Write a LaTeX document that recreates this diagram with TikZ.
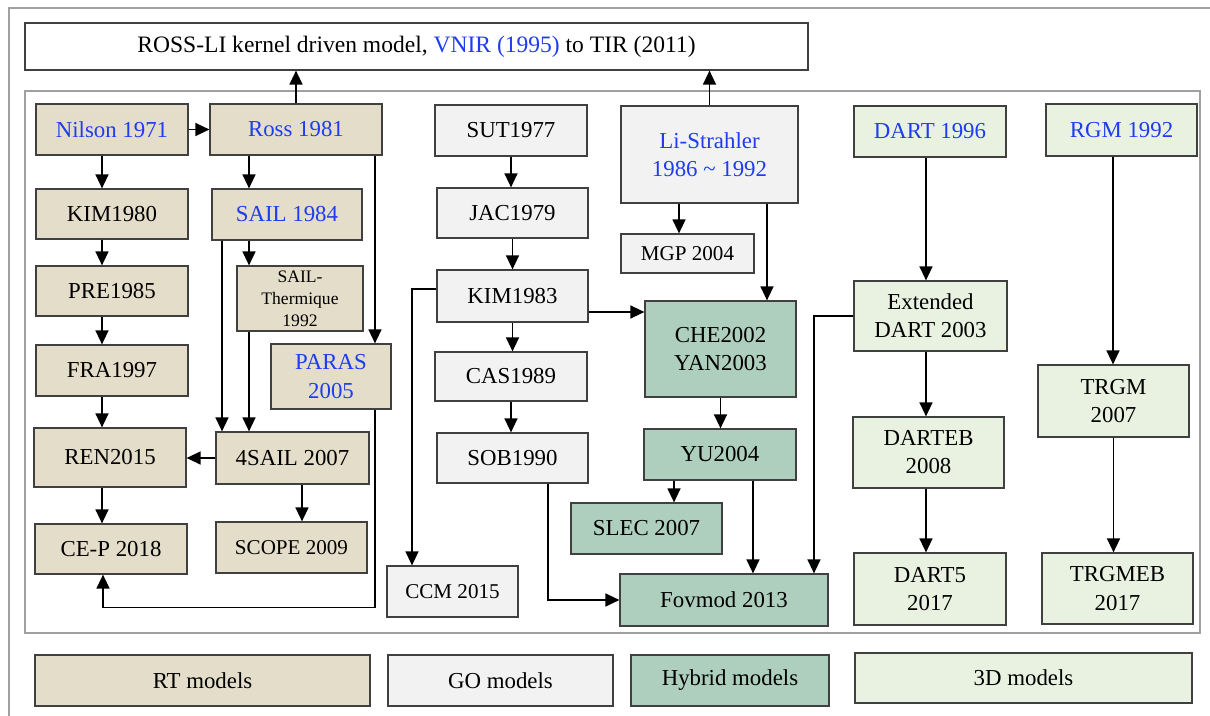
\documentclass[tikz,border=0pt]{standalone}
\usepackage{fontspec}
\setmainfont{Liberation Serif}
\usetikzlibrary{arrows.meta}

\definecolor{rtfill}{RGB}{228,221,201}
\definecolor{gofill}{RGB}{242,242,242}
\definecolor{hyfill}{RGB}{174,206,190}
\definecolor{tdfill}{RGB}{233,242,225}
\definecolor{edgegray}{RGB}{64,64,64}
\definecolor{framegray}{RGB}{160,160,160}
\definecolor{newblue}{RGB}{30,60,240}

\begin{document}
\begin{tikzpicture}[x=0.02cm, y=-0.02cm, >={Triangle[length=2.8mm, width=2.6mm]}, line width=0.8pt,
    model/.style={rectangle, draw=edgegray, line width=0.7pt, minimum width=3.04cm, minimum height=1.02cm,
        inner sep=1pt, align=center, font=\fontsize{13}{16}\selectfont},
    rt/.style={model, fill=rtfill}, go/.style={model, fill=gofill},
    hy/.style={model, fill=hyfill}, td/.style={model, fill=tdfill},
    small/.style={font=\fontsize{12}{14}\selectfont},
    new/.style={text=newblue}]
    \useasboundingbox (0,0) rectangle (1210,716);
    \draw[framegray, line width=0.6pt] (9,716) -- (9,8) -- (1210,8);
    \draw[framegray, line width=0.6pt] (25,91) rectangle (1200,633);

    \node[model, fill=white, minimum width=15.66cm, minimum height=0.94cm, font=\fontsize{13.4}{16}\selectfont]
        (rossli) at (416.5,46.5) {ROSS-LI kernel driven model, \textcolor{newblue}{VNIR (1995)} to TIR (2011)};

    \node[rt, new] (nilson) at (112,129.5) {Nilson 1971};
    \node[rt, minimum height=1cm] (kim80) at (112,214) {KIM1980};
    \node[rt, minimum height=1cm] (pre85) at (112,291) {PRE1985};
    \node[rt] (fra97) at (112,370.5) {FRA1997};
    \node[rt, minimum height=1.18cm] (ren15) at (110,457.5) {REN2015};
    \node[rt, minimum height=1cm] (cep18) at (111,549) {CE-P 2018};
    \node[rt, new, minimum width=3.44cm] (ross81) at (296,129.5) {Ross 1981};
    \node[rt, new, minimum width=3cm] (sail84) at (287,214.5) {SAIL 1984};
    \node[rt, minimum width=2.52cm, minimum height=1.3cm, font=\fontsize{10}{12.5}\selectfont] (sailth92) at (300,298.5)
        {SAIL-\\Thermique\\1992};
    \node[rt, new, minimum width=2.4cm, minimum height=1.3cm] (paras05) at (331,376.5) {PARAS\\2005};
    \node[rt, minimum width=3.06cm, minimum height=1.04cm] (fsail07) at (292.5,458) {4SAIL 2007};
    \node[rt, small, minimum width=3.02cm] (scope09) at (291.5,547.5) {SCOPE 2009};

    \node[go] (sut77) at (511,130.5) {SUT1977};
    \node[go, minimum width=3.02cm, minimum height=1cm] (jac79) at (512.5,213) {JAC1979};
    \node[go, minimum width=3.02cm, minimum height=1.04cm] (kim83) at (512.5,296) {KIM1983};
    \node[go, minimum height=0.98cm] (cas89) at (511,376.5) {CAS1989};
    \node[go, minimum width=3.02cm, minimum height=1cm] (sob90) at (512.5,458) {SOB1990};
    \node[go, small, minimum width=2.62cm] (ccm15) at (452.5,591.5) {CCM 2015};
    \node[go, new, minimum width=3.54cm, minimum height=1.94cm] (lis86) at (709.5,154.5)
        {Li-Strahler\\1986 \textasciitilde{} 1992};
    \node[go, small, minimum width=2.66cm, minimum height=0.78cm] (mgp04) at (687.5,253.5) {MGP 2004};

    \node[hy, minimum width=3.02cm, minimum height=1.92cm] (che02) at (720.5,349) {CHE2002\\YAN2003};
    \node[hy] (yu04) at (720,454.5) {YU2004};
    \node[hy, minimum width=3.02cm] (slec07) at (646.5,528.5) {SLEC 2007};
    \node[hy, minimum width=4.16cm, minimum height=1.04cm] (fov13) at (724,600) {Fovmod 2013};

    \node[td, new] (dart96) at (930,131.5) {DART 1996};
    \node[td, new, minimum width=3.02cm, minimum height=1.04cm] (rgm92) at (1121.5,130) {RGM 1992};
    \node[td, minimum width=3.06cm, minimum height=1.4cm] (edart03) at (930.5,316) {Extended\\DART 2003};
    \node[td, minimum width=3.02cm, minimum height=1.42cm] (darteb08) at (928.5,452.5) {DARTEB\\2008};
    \node[td, minimum height=1.44cm] (dart17) at (930,589) {DART5\\2017};
    \node[td, minimum width=3.02cm, minimum height=1.44cm] (trgm07) at (1113.5,401) {TRGM\\2007};
    \node[td, minimum width=3.02cm, minimum height=1.42cm] (trgmeb17) at (1117.5,588.5) {TRGMEB\\2017};

    \node[rt, minimum width=6.7cm] (legrt) at (202.5,680.5) {RT models};
    \node[go, minimum width=4.5cm] (leggo) at (500.5,680.5) {GO models};
    \node[hy, minimum width=3.96cm] (leghy) at (730,680.5) {Hybrid models};
    \node[td, minimum width=6.74cm, minimum height=1cm] (leg3d) at (1023.5,678) {3D models};

    \draw[->] (nilson.east) -- (ross81.west);
    \draw[->] (ross81.north) -- (ross81.north |- rossli.south);
    \draw[->] ([xshift=-0.2cm]nilson.south) -- ([xshift=-0.2cm]nilson.south |- kim80.north);
    \draw[->] ([xshift=-0.2cm]kim80.south) -- ([xshift=-0.2cm]kim80.south |- pre85.north);
    \draw[->] ([xshift=-0.2cm]pre85.south) -- ([xshift=-0.2cm]pre85.south |- fra97.north);
    \draw[->] ([xshift=-0.2cm]fra97.south) -- ([xshift=-0.2cm]fra97.south |- ren15.north);
    \draw[->] ([xshift=-0.16cm]ren15.south) -- ([xshift=-0.16cm]ren15.south |- cep18.north);
    \draw[->] ([xshift=-0.94cm]ross81.south) -- ([xshift=-0.94cm]ross81.south |- sail84.north);
    \draw[->] ([xshift=1.58cm]ross81.south) -- ([xshift=1.58cm]ross81.south |- paras05.north);
    \draw[->] ([xshift=-1.3cm]sail84.south) -- ([xshift=-1.3cm]sail84.south |- fsail07.north);
    \draw[->] ([xshift=-0.76cm]sail84.south) -- ([xshift=-0.76cm]sail84.south |- sailth92.north);
    \draw[->] ([xshift=-1.02cm]sailth92.south) -- ([xshift=-1.02cm]sailth92.south |- fsail07.north);
    \draw[->] (fsail07.west) -- (fsail07.west -| ren15.east);
    \draw[->] ([xshift=0.19cm]fsail07.south) -- ([xshift=0.19cm]fsail07.south |- scope09.north);
    \draw[->] ([xshift=0.88cm]paras05.south) |- ([xshift=-0.16cm, yshift=-0.66cm]cep18.south)
        -- ([xshift=-0.16cm]cep18.south);

    \draw[->] (sut77.south) -- (sut77.south |- jac79.north);
    \draw[->] (jac79.south) -- (jac79.south |- kim83.north);
    \draw[->] (kim83.south) -- (kim83.south |- cas89.north);
    \draw[->] (cas89.south) -- (cas89.south |- sob90.north);
    \draw[->] ([yshift=0.14cm]kim83.west) -| ([xshift=-0.81cm]ccm15.north);
    \draw[->] ([yshift=-0.32cm]kim83.east) -- ([yshift=-0.32cm]kim83.east -| che02.west);
    \draw[->] ([xshift=0.71cm]sob90.south) |- (fov13.west);
    \draw[->] (lis86.north) -- (lis86.north |- rossli.south);
    \draw[->] ([xshift=-0.61cm]lis86.south) -- ([xshift=-0.61cm]lis86.south |- mgp04.north);
    \draw[->] ([xshift=1.15cm]lis86.south) -- ([xshift=1.15cm]lis86.south |- che02.north);

    \draw[->] (che02.south) -- (che02.south |- yu04.north);
    \draw[->] ([xshift=-0.92cm]yu04.south) -- ([xshift=-0.92cm]yu04.south |- slec07.north);
    \draw[->] ([xshift=0.66cm]yu04.south) -- ([xshift=0.66cm]yu04.south |- fov13.north);
    \draw[->] (edart03.west) -| ([xshift=1.8cm]fov13.north);

    \draw[->] ([xshift=-0.08cm]dart96.south) -- ([xshift=-0.08cm]dart96.south |- edart03.north);
    \draw[->] ([xshift=-0.09cm]edart03.south) -- ([xshift=-0.09cm]edart03.south |- darteb08.north);
    \draw[->] ([xshift=-0.05cm]darteb08.south) -- ([xshift=-0.05cm]darteb08.south |- dart17.north);
    \draw[->] ([xshift=-0.17cm]rgm92.south) -- ([xshift=-0.17cm]rgm92.south |- trgm07.north);
    \draw[->] (trgm07.south) -- (trgm07.south |- trgmeb17.north);
\end{tikzpicture}
\end{document}
